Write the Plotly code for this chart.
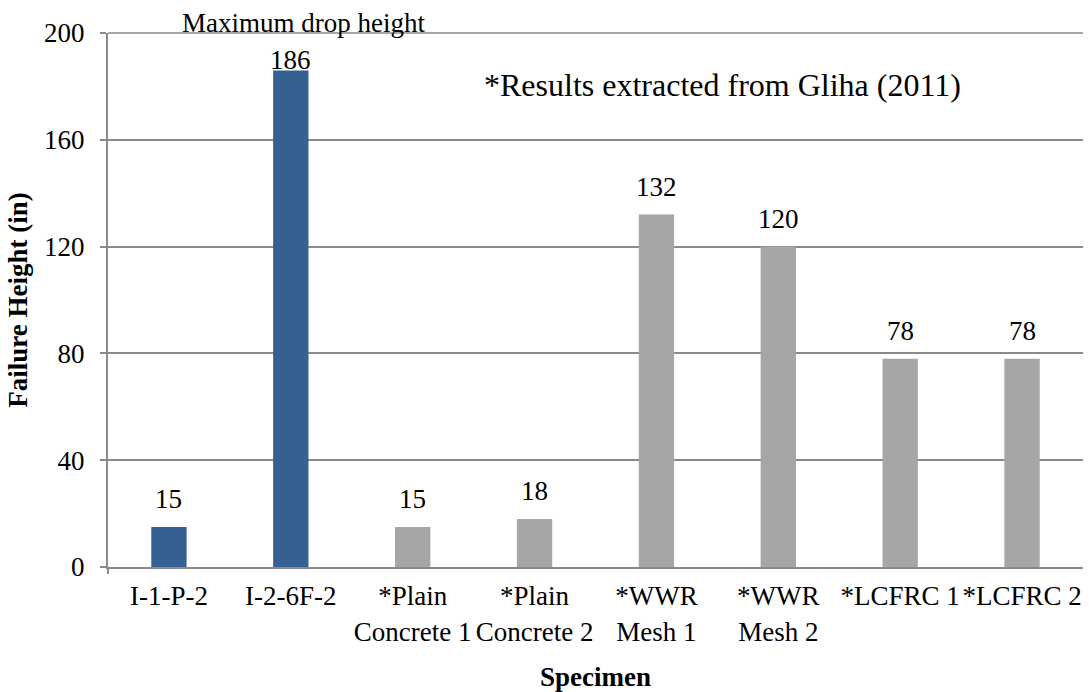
import plotly.graph_objects as go

specimens = ["I-1-P-2", "I-2-6F-2", "*Plain<br>Concrete 1", "*Plain<br>Concrete 2",
             "*WWR<br>Mesh 1", "*WWR<br>Mesh 2", "*LCFRC 1", "*LCFRC 2"]
failure_height = [15, 186, 15, 18, 132, 120, 78, 78]
bar_colors = ["#366092", "#366092", "#A6A6A6", "#A6A6A6",
              "#A6A6A6", "#A6A6A6", "#A6A6A6", "#A6A6A6"]
y_ticks = [0, 40, 80, 120, 160, 200]

FONT = "Liberation Serif, Times New Roman, serif"
GRID = "#8A8A8A"
W, H = 1089, 692
M_L, M_R, M_T, M_B = 108, 6, 33, 125
PLOT_H = H - M_T - M_B
Y_MAX = 200

fig = go.Figure(go.Bar(
    x=specimens,
    y=failure_height,
    marker=dict(color=bar_colors, line=dict(width=0)),
    hoverinfo="x+y",
))

# value labels sit above each bar; a label that would run past the top
# of the plotting area is pulled down so it stays inside
label_offset = 28
annotations = []
for name, v in zip(specimens, failure_height):
    bar_top_px = v / Y_MAX * PLOT_H
    center_px = min(bar_top_px + label_offset, PLOT_H - 27)
    annotations.append(dict(
        x=name, y=v, xref="x", yref="y", text=str(v), showarrow=False,
        xanchor="center", yanchor="middle", yshift=center_px - bar_top_px,
        font=dict(family=FONT, size=27, color="black"),
    ))

annotations += [
    dict(text="Maximum drop height", xref="paper", yref="paper",
         x=(303 - M_L) / (W - M_L - M_R), y=1.0, xanchor="center", yanchor="bottom",
         yshift=-7, showarrow=False, font=dict(family=FONT, size=27, color="black")),
    dict(text="*Results extracted from Gliha (2011)", xref="paper", yref="paper",
         x=(722 - M_L) / (W - M_L - M_R), y=(H - M_B - 85) / PLOT_H,
         xanchor="center", yanchor="middle",
         showarrow=False, font=dict(family=FONT, size=32, color="black")),
]

fig.update_layout(
    width=W, height=H,
    margin=dict(l=M_L, r=M_R, t=M_T, b=M_B),
    plot_bgcolor="white", paper_bgcolor="white",
    bargap=0.71,
    showlegend=False,
    font=dict(family=FONT, size=27, color="black"),
    xaxis=dict(
        automargin=False,
        showline=True, linecolor=GRID, linewidth=2,
        ticks="", tickfont=dict(family=FONT, size=27, color="black"),
        ticklabelstandoff=4,
        title=dict(text="<b>Specimen</b>", font=dict(family=FONT, size=27, color="black"),
                   standoff=22),
    ),
    yaxis=dict(
        automargin=False,
        range=[0, Y_MAX], tickvals=y_ticks,
        showgrid=True, gridcolor=GRID, gridwidth=1.5,
        showline=True, linecolor=GRID, linewidth=2,
        ticks="outside", ticklen=6, tickcolor=GRID, tickwidth=1.5,
        tickfont=dict(family=FONT, size=27, color="black"),
        ticklabelstandoff=10,
        zeroline=False,
        title=dict(text="<b>Failure Height (in)</b>",
                   font=dict(family=FONT, size=27, color="black"), standoff=9),
    ),
    annotations=annotations,
    shapes=[
        dict(type="line", xref="paper", yref="paper", x0=0, x1=0, y0=0, y1=-7 / PLOT_H,
             line=dict(color=GRID, width=2)),
        dict(type="line", xref="paper", yref="paper", x0=0, x1=1, y0=1, y1=1,
             line=dict(color=GRID, width=1.5)),
    ],
)

fig.write_html("out.html")
